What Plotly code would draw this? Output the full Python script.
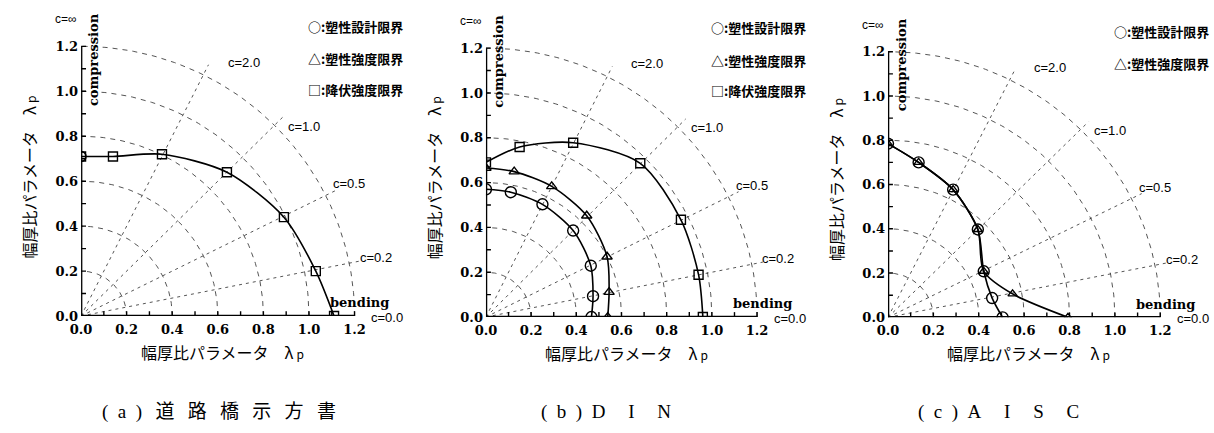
import numpy as np
import plotly.graph_objects as go

# ---------------------------------------------------------------- data
# width-thickness ratio parameter lambda_p, bending (x) vs compression (y)
TICK_VALUES = [round(0.1 * i, 1) for i in range(13)]          # tick marks
LABEL_VALUES = [round(0.2 * i, 1) for i in range(7)]          # labelled ticks
LABEL_TEXT = [f"{v:.1f}" for v in LABEL_VALUES]

C_VALUES = [0.2, 0.5, 1.0, 2.0]          # radial lines  c = y / x
C_LABELS = ["c=0.2", "c=0.5", "c=1.0", "c=2.0"]
RADII = [0.2, 0.4, 0.6, 0.8, 1.0, 1.2]    # dashed arcs

# (a) 道路橋示方書
a_design_x = [0.0]
a_design_y = [0.71]
a_yield_x = [0.0, 0.14, 0.355, 0.64, 0.89, 1.03, 1.11]
a_yield_y = [0.71, 0.71, 0.72, 0.64, 0.44, 0.20, 0.0]

# (b) DIN
b_design_x = [0.0, 0.11, 0.25, 0.386, 0.464, 0.474, 0.467]
b_design_y = [0.57, 0.557, 0.503, 0.386, 0.229, 0.093, 0.0]
b_strength_x = [0.0, 0.125, 0.291, 0.446, 0.536, 0.545, 0.539]
b_strength_y = [0.665, 0.649, 0.583, 0.452, 0.269, 0.111, 0.0]
b_yield_x = [0.0, 0.149, 0.386, 0.683, 0.863, 0.941, 0.96]
b_yield_y = [0.69, 0.759, 0.778, 0.686, 0.434, 0.189, 0.0]

# (c) AISC
c_design_x = [0.0, 0.135, 0.287, 0.396, 0.422, 0.459, 0.505]
c_design_y = [0.785, 0.70, 0.577, 0.397, 0.208, 0.087, 0.0]
c_strength_x = [0.0, 0.135, 0.287, 0.396, 0.422, 0.549, 0.793]
c_strength_y = [0.785, 0.70, 0.577, 0.397, 0.208, 0.106, 0.0]

LEGEND_DESIGN = "○:塑性設計限界"
LEGEND_STRENGTH = "△:塑性強度限界"
LEGEND_YIELD = "□:降伏強度限界"
AXIS_TITLE = "幅厚比パラメータ\u2003λ\u2009<span style='font-size:12px'>p</span>"

CAPTIONS = ["(a)道路橋示方書", "(b)DIN", "(c)AISC"]

# ---------------------------------------------------------------- layout
W, H = 1214, 433
XMAX, YMAX = 1.35, 1.35
# origin pixel and pixels per unit for every panel
PANELS = [
    dict(x0=70.7, sx=230.0, y0=322.0, sy=229.0, cap_x=210),
    dict(x0=479.3, sx=228.0, y0=323.0, sy=228.3, cap_x=600),
    dict(x0=885.0, sx=229.0, y0=323.3, sy=225.5, cap_x=997),
]
CAPTION_Y = 420
TICK_LEN = 5

GRID_COLOR = "#2a2a2a"
SERIF_BOLD = dict(family="DejaVu Serif", size=13, color="black", weight="bold")
TICK_FONT = dict(family="DejaVu Serif", size=13, color="black", weight="bold")
LABEL_FONT = dict(family="Liberation Sans", size=13, color="black")
LEGEND_FONT = dict(family="Noto Sans CJK JP", size=13, color="black", weight="bold")
TITLE_FONT = dict(family="Noto Sans CJK JP", size=16, color="black")
CAPTION_FONT = dict(family="Liberation Serif, Noto Sans CJK JP", size=19, color="black")

fig = go.Figure()
annotations = []


def spaced(text):
    """Wide letter spacing used in the panel captions."""
    out = ""
    for i, ch in enumerate(text):
        out += ch
        if i < len(text) - 1:
            nxt = text[i + 1]
            if ord(ch) > 0x2E80 or ord(nxt) > 0x2E80:
                out += "\u2002\u2009"
            elif ch.isalpha() and nxt.isalpha() and ch.isupper():
                out += "\u2003\u2009"
            else:
                out += "\u2002"
    return out


def add_series(ax, ay, xs, ys, symbol, size):
    fig.add_trace(go.Scatter(
        x=xs, y=ys, xaxis=ax, yaxis=ay, mode="lines+markers",
        line=dict(color="black", width=1.6, shape="spline", smoothing=0.8),
        marker=dict(symbol=symbol, size=size, color="black",
                    line=dict(color="black", width=1.4)),
        showlegend=False, hoverinfo="skip"))


def line_trace(ax, ay, xs, ys, width, color="black", dash=None):
    fig.add_trace(go.Scatter(
        x=xs, y=ys, xaxis=ax, yaxis=ay, mode="lines",
        line=dict(color=color, width=width, dash=dash),
        showlegend=False, hoverinfo="skip"))


def add_panel(i, series, legend_items):
    p = PANELS[i]
    sfx = "" if i == 0 else str(i + 1)
    ax, ay = "x" + sfx, "y" + sfx

    def to_paper(x, y):
        return (p["x0"] + x * p["sx"]) / W, (H - p["y0"] + y * p["sy"]) / H

    # dashed arcs of constant radius
    th = np.linspace(0, np.pi / 2, 91)
    for r in RADII:
        line_trace(ax, ay, r * np.cos(th), r * np.sin(th), 0.8, GRID_COLOR, "5px,5px")
    # radial lines of constant c
    for c in C_VALUES:
        ang = np.arctan(c)
        line_trace(ax, ay, [0, 1.25 * np.cos(ang)], [0, 1.25 * np.sin(ang)],
                   0.8, GRID_COLOR, "3px,4px")

    # heavy axis lines with inward ticks
    line_trace(ax, ay, [0, 1.2], [0, 0], 2.6)
    line_trace(ax, ay, [0, 0], [0, 1.2], 2.6)
    tx, ty = [], []
    for v in TICK_VALUES[1:]:
        tx += [v, v, None]
        ty += [0, TICK_LEN / p["sy"], None]
    line_trace(ax, ay, tx, ty, 1.4)
    tx, ty = [], []
    for v in TICK_VALUES[1:]:
        tx += [0, TICK_LEN / p["sx"], None]
        ty += [v, v, None]
    line_trace(ax, ay, tx, ty, 1.4)

    for xs, ys, symbol, size in series:
        add_series(ax, ay, xs, ys, symbol, size)

    # domains in paper units
    xd = [p["x0"] / W, (p["x0"] + XMAX * p["sx"]) / W]
    yd = [(H - p["y0"]) / H, (H - p["y0"] + YMAX * p["sy"]) / H]
    common = dict(showgrid=False, zeroline=False, showline=False, ticks="",
                  tickvals=LABEL_VALUES, ticktext=LABEL_TEXT, tickfont=TICK_FONT,
                  fixedrange=True)
    fig.update_layout(**{
        "xaxis" + sfx: dict(domain=xd, range=[0, XMAX], anchor=ay,
                            ticklabelstandoff=4, **common),
        "yaxis" + sfx: dict(domain=yd, range=[0, YMAX], anchor=ax,
                            ticklabelstandoff=2, **common),
    })

    def note(x, y, text, font, xanchor="left", yanchor="middle", angle=0):
        px, py = to_paper(x, y)
        annotations.append(dict(x=px, y=py, xref="paper", yref="paper", text=text,
                                font=font, showarrow=False, xanchor=xanchor,
                                yanchor=yanchor, textangle=angle))

    # c labels
    label_pos = {"c=0.2": (1.215, 0.262), "c=0.5": (1.098, 0.588),
                 "c=1.0": (0.90, 0.845), "c=2.0": (0.635, 1.13)}
    for lab in C_LABELS:
        lx, ly = label_pos[lab]
        note(lx, ly, lab, LABEL_FONT)
    note(1.265, -0.006, "c=0.0", LABEL_FONT)
    note(-0.068, 1.32, "c=∞", dict(LABEL_FONT, size=12), xanchor="center")
    note(1.084, 0.06, "bending", SERIF_BOLD)
    note(0.058, 1.14, "compression", SERIF_BOLD, xanchor="center", angle=-90)

    # legend text
    for k, item in enumerate(legend_items):
        note(0.985, [1.29, 1.145, 1.01][k], item, LEGEND_FONT)

    # axis titles
    note(0.62, -0.16, AXIS_TITLE, TITLE_FONT, xanchor="center")
    note(-0.229, 0.62, AXIS_TITLE, TITLE_FONT, xanchor="center", angle=-90)

    # caption
    annotations.append(dict(x=p["cap_x"] / W, y=1 - CAPTION_Y / H, xref="paper",
                            yref="paper", text=spaced(CAPTIONS[i]), font=CAPTION_FONT,
                            showarrow=False, xanchor="center", yanchor="middle"))


add_panel(0, [(a_yield_x, a_yield_y, "square-open", 9),
              (a_design_x, a_design_y, "circle-open", 10)],
          [LEGEND_DESIGN, LEGEND_STRENGTH, LEGEND_YIELD])
add_panel(1, [(b_design_x, b_design_y, "circle-open", 11),
              (b_strength_x, b_strength_y, "triangle-up-open", 9),
              (b_yield_x, b_yield_y, "square-open", 9)],
          [LEGEND_DESIGN, LEGEND_STRENGTH, LEGEND_YIELD])
add_panel(2, [(c_design_x, c_design_y, "circle-open", 11),
              (c_strength_x, c_strength_y, "triangle-up-open", 8)],
          [LEGEND_DESIGN, LEGEND_STRENGTH])

fig.update_layout(width=W, height=H, margin=dict(l=0, r=0, t=0, b=0),
                  paper_bgcolor="white", plot_bgcolor="rgba(0,0,0,0)",
                  annotations=annotations, showlegend=False)

fig.write_html("out.html", config={"displayModeBar": False})
